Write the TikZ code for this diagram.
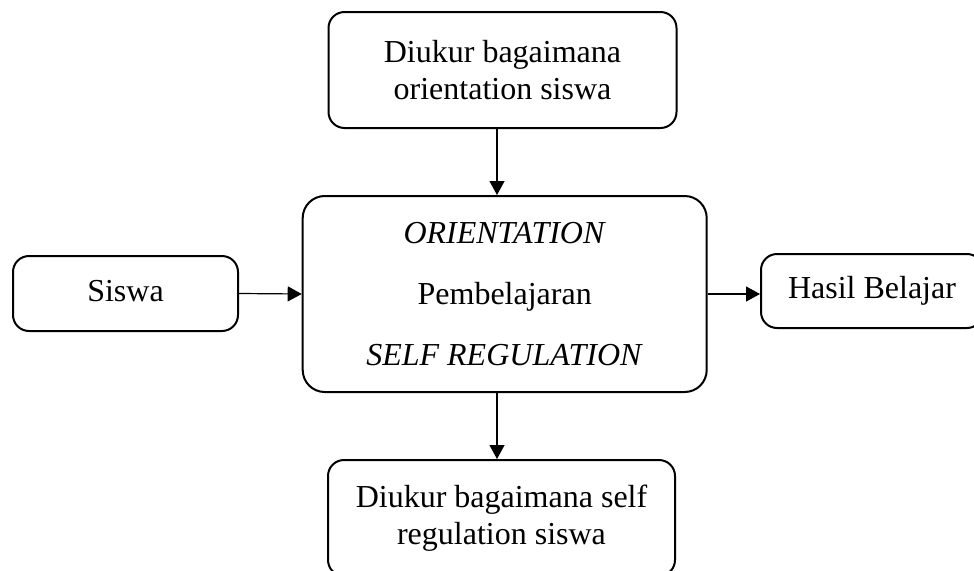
\documentclass[tikz,border=0pt]{standalone}
\usepackage{fontspec}
\setmainfont{Liberation Serif}
\usetikzlibrary{arrows.meta}
\tikzset{
  box/.style={draw, line width=2pt, rounded corners=16pt, align=center, inner sep=0pt,
    font=\fontsize{32}{37}\selectfont},
  onebox/.style={box, text height=22pt, text depth=7pt},
  conn/.style={line width=1.2pt, -{Triangle[length=14pt,width=15pt]}}
}
\begin{document}
\begin{tikzpicture}[x=1pt,y=-1pt]
\useasboundingbox (0,0) rectangle (974,570);
\clip (0,0) rectangle (974,570);
\node[box, minimum width=348pt, minimum height=116pt] (top) at (502.5,70) {Diukur bagaimana\\orientation siswa};
\node[box, rounded corners=22pt, minimum width=404pt, minimum height=196pt,
  font=\fontsize{32}{61}\selectfont] (main) at (504.7,294) {\textit{ORIENTATION}\\Pembelajaran\\\textit{SELF REGULATION}};
\node[onebox, minimum width=225pt, minimum height=75pt] (siswa) at (125.5,293.5) {Siswa};
\node[onebox, minimum width=222pt, minimum height=74pt] (hasil) at (872,291) {Hasil Belajar};
\node[box, minimum width=347pt, minimum height=116pt] (bot) at (501.5,518) {Diukur bagaimana self\\regulation siswa};
\coordinate (ax) at (497,0);
\draw[conn] (top.south -| ax) -- (main.north -| ax);
\draw[conn] (main.south -| ax) -- (bot.north -| ax);
\draw[conn] (siswa.east) -- (main.west);
\draw[conn] (main.east) -- (main.east -| hasil.west);
\end{tikzpicture}
\end{document}
